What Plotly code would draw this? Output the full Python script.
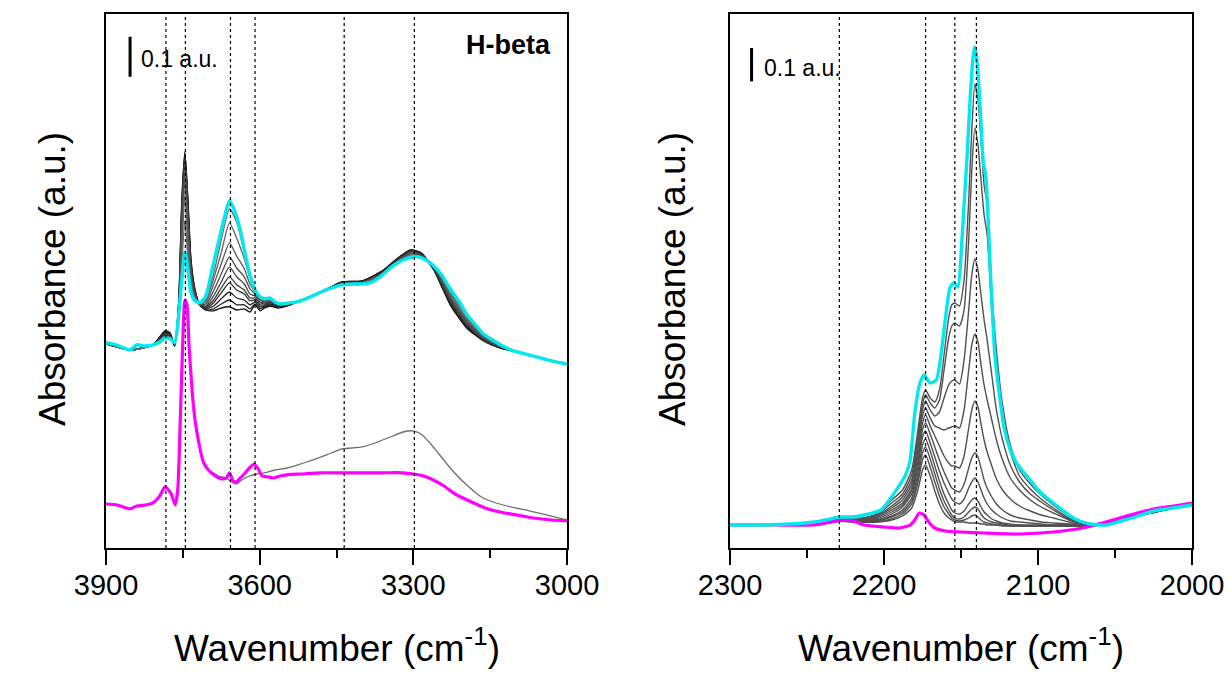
import plotly.graph_objects as go

# ---------------- LEFT PANEL (OH region) ----------------
LEFT_TICKS = [3900, 3600, 3300, 3000]
LEFT_MINOR = [3750, 3450, 3150]
LEFT_MARKS = [3783, 3745, 3657, 3609, 3435, 3298]

LC_WN = [3900, 3880, 3853, 3840, 3825, 3808, 3795, 3785, 3775, 3766, 3760, 3752, 3746, 3740, 3735, 3728, 3717, 3705, 3693, 3684,
         3670, 3659, 3648, 3638, 3628, 3619, 3609, 3599, 3590, 3580, 3570, 3560, 3540, 3520, 3500, 3480, 3460, 3440, 3420, 3400,
         3380, 3360, 3340, 3320, 3300, 3290, 3275, 3260, 3245, 3228, 3210, 3196, 3180, 3163, 3145, 3130, 3110, 3090, 3060, 3030, 3000]
LC_A = [.513, .508, .495, .508, .505, .508, .515, .525, .523, .513, .558, .670, .740, .695, .645, .620, .613, .630, .695, .745,
        .820, .868, .840, .795, .733, .683, .645, .628, .623, .625, .615, .610, .613, .618, .628, .640, .650, .658, .660, .660,
        .665, .683, .705, .720, .728, .728, .720, .705, .683, .648, .615, .585, .560, .535, .520, .508, .495, .488, .478, .468, .460]

LM_WN = [3900, 3880, 3860, 3853, 3840, 3820, 3808, 3795, 3785, 3778, 3772, 3765, 3760, 3755, 3750, 3746, 3742, 3738, 3732, 3726,
         3718, 3710, 3700, 3690, 3675, 3665, 3659, 3652, 3646, 3638, 3630, 3620, 3611, 3603, 3595, 3585, 3573, 3560, 3547, 3520,
         3480, 3440, 3400, 3360, 3320, 3300, 3280, 3261, 3240, 3222, 3200, 3183, 3160, 3131, 3100, 3066, 3030, 3000]
LM_A = [.110, .108, .100, .098, .105, .108, .113, .130, .153, .145, .133, .108, .145, .320, .520, .620, .608, .508, .395, .318,
        .258, .215, .195, .183, .173, .175, .188, .168, .165, .175, .185, .200, .210, .198, .180, .178, .175, .180, .183, .185,
        .188, .188, .188, .188, .188, .185, .180, .170, .155, .138, .123, .113, .100, .090, .083, .075, .070, .068]

LG_WN = [3700, 3680, 3665, 3655, 3645, 3635, 3620, 3605, 3590, 3570, 3547, 3525, 3508, 3490, 3469, 3450, 3439, 3420, 3400, 3380,
         3360, 3340, 3320, 3302, 3285, 3268, 3250, 3228, 3210, 3196, 3170, 3144, 3110, 3074, 3040, 3000]
LG_A = [.195, .180, .175, .165, .160, .170, .180, .185, .188, .195, .200, .208, .215, .223, .233, .243, .248, .250, .253, .260,
        .270, .280, .290, .293, .285, .263, .235, .200, .175, .158, .130, .115, .103, .093, .083, .070]

# grey family (increasing CO dose), shared wavenumber grid
LS_WN = [3900, 3853, 3808, 3785, 3775, 3766, 3758, 3752, 3746, 3740, 3734, 3726, 3717, 3705, 3690, 3675, 3659, 3645, 3630, 3619,
         3609, 3599, 3590, 3580, 3565, 3540, 3500, 3460, 3440, 3400, 3360, 3330, 3305, 3285, 3260, 3228, 3196, 3163, 3131, 3090, 3045, 3000]
LS1 = [.510, .495, .508, .543, .538, .505, .620, .870, .990, .870, .720, .645, .608, .595, .593, .600, .603, .595, .598, .590,
       .608, .593, .600, .605, .600, .608, .630, .653, .665, .668, .693, .725, .745, .738, .695, .608, .550, .518, .500, .488, .473, .460]
LS2 = [.513, .495, .508, .540, .535, .505, .615, .860, .988, .863, .715, .643, .608, .595, .598, .610, .620, .608, .608, .598,
       .610, .598, .603, .608, .603, .608, .630, .653, .665, .668, .693, .725, .745, .738, .695, .610, .553, .518, .500, .488, .473, .460]
LS3 = [.513, .495, .508, .538, .533, .505, .610, .850, .983, .855, .710, .640, .608, .598, .605, .623, .640, .625, .620, .608,
       .615, .603, .605, .610, .605, .610, .630, .653, .663, .665, .690, .723, .743, .735, .698, .613, .555, .520, .500, .488, .473, .460]
LS4 = [.513, .495, .508, .535, .530, .508, .605, .840, .978, .845, .705, .638, .608, .600, .613, .638, .663, .645, .635, .618,
       .620, .608, .608, .613, .608, .610, .628, .653, .663, .665, .690, .723, .743, .735, .698, .618, .558, .520, .503, .488, .473, .460]
LS5 = [.513, .495, .508, .533, .530, .508, .600, .830, .970, .835, .700, .635, .608, .603, .620, .650, .678, .658, .645, .625,
       .625, .613, .610, .615, .608, .610, .628, .653, .663, .665, .688, .720, .740, .733, .700, .620, .563, .523, .503, .488, .473, .460]
LS6 = [.513, .495, .508, .530, .528, .508, .595, .815, .960, .820, .693, .633, .610, .605, .630, .665, .703, .678, .660, .635,
       .630, .615, .613, .615, .610, .613, .628, .650, .660, .663, .688, .720, .740, .733, .700, .625, .565, .525, .503, .488, .473, .460]
LS7 = [.513, .495, .508, .528, .528, .510, .590, .795, .945, .800, .685, .630, .610, .610, .643, .685, .728, .700, .678, .648,
       .635, .620, .615, .618, .610, .613, .628, .650, .660, .663, .685, .718, .738, .730, .703, .628, .568, .525, .505, .488, .473, .460]
LS8 = [.513, .495, .508, .528, .525, .510, .585, .770, .920, .778, .675, .628, .610, .615, .658, .710, .763, .730, .698, .660,
       .640, .623, .618, .620, .613, .613, .628, .650, .660, .663, .685, .718, .735, .730, .703, .633, .570, .528, .505, .488, .473, .460]
LS9 = [.513, .495, .508, .525, .525, .510, .580, .740, .883, .750, .665, .625, .613, .620, .673, .738, .813, .775, .723, .675,
       .645, .625, .620, .620, .613, .613, .628, .650, .658, .660, .683, .715, .733, .728, .705, .638, .575, .530, .505, .488, .473, .460]
LS10 = [.513, .495, .508, .525, .523, .513, .570, .710, .820, .720, .653, .623, .613, .625, .685, .770, .848, .815, .740, .685,
        .648, .628, .623, .623, .613, .613, .628, .650, .658, .660, .683, .713, .730, .725, .705, .643, .580, .533, .508, .488, .473, .460]
LEFT_SERIES = [LS1, LS2, LS3, LS4, LS5, LS6, LS7, LS8, LS9, LS10]
LEFT_GREYS = ["#111111", "#1c1c1c", "#262626", "#303030", "#3a3a3a", "#444444", "#4e4e4e", "#585858", "#626262", "#6a6a6a"]

# ---------------- RIGHT PANEL (CO region) ----------------
RIGHT_TICKS = [2300, 2200, 2100, 2000]
RIGHT_MINOR = [2250, 2150, 2050]
RIGHT_MARKS = [2229, 2173, 2154, 2140]

RC_WN = [2300, 2280, 2260, 2245, 2235, 2229, 2220, 2210, 2202, 2192, 2186, 2183, 2180, 2177, 2174, 2170, 2166, 2163, 2160, 2157,
         2154.5, 2152, 2149.5, 2148, 2146, 2144, 2142, 2141, 2139.5, 2137.5, 2135.5, 2134, 2132.5, 2131, 2129.5, 2128, 2125, 2122, 2118, 2114,
         2110, 2105, 2100, 2095, 2090, 2085, 2079, 2073, 2066, 2056, 2046, 2035, 2025, 2012, 2000]
RC_A = [.069, .069, .072, .078, .087, .093, .093, .102, .114, .174, .219, .264, .405, .489, .519, .495, .504, .579, .693, .783,
        .795, .783, .915, 1.029, 1.179, 1.353, 1.479, 1.503, 1.458, 1.314, 1.155, 1.119, .999, .834, .699, .579, .459, .360, .294, .255,
        .231, .204, .174, .153, .135, .117, .096, .081, .072, .069, .081, .096, .111, .120, .129]

RM_WN = [2300, 2270, 2246, 2238, 2231, 2224, 2218, 2213, 2200, 2190, 2183, 2180, 2177, 2174, 2171, 2167, 2160, 2150, 2135, 2112,
         2090, 2068, 2047, 2025, 2012, 2000]
RM_A = [.069, .069, .069, .075, .081, .084, .078, .069, .063, .060, .069, .084, .105, .099, .078, .060, .051, .048, .045, .042,
        .048, .063, .090, .117, .126, .135]

RS_WN = [2300, 2260, 2240, 2229, 2218, 2205, 2195, 2188, 2182, 2178, 2175, 2173, 2170, 2167, 2164, 2161, 2158, 2156, 2154, 2151,
         2148, 2145, 2143, 2141, 2139, 2137, 2135, 2133, 2130, 2127, 2123, 2118, 2112, 2105, 2098, 2090, 2080, 2070, 2060, 2050,
         2040, 2030, 2015, 2000]
RS1 = [.069, .069, .072, .081, .078, .078, .084, .096, .120, .174, .234, .249, .216, .171, .132, .105, .090, .084, .078, .078,
       .078, .075, .075, .075, .075, .072, .072, .069, .069, .069, .066, .066, .066, .066, .066, .066, .066, .066, .069, .081,
       .093, .102, .117, .129]
RS2 = [.069, .069, .072, .081, .078, .078, .087, .102, .132, .195, .264, .279, .243, .198, .156, .123, .102, .090, .084, .081,
       .084, .090, .096, .099, .093, .084, .078, .075, .072, .069, .069, .066, .066, .066, .066, .066, .066, .066, .069, .081,
       .093, .102, .117, .129]
RS3 = [.069, .069, .072, .081, .078, .081, .093, .108, .141, .210, .285, .303, .267, .222, .177, .141, .114, .099, .090, .087,
       .093, .108, .117, .123, .117, .102, .090, .084, .078, .075, .072, .069, .069, .066, .066, .066, .066, .066, .069, .081,
       .093, .102, .117, .129]
RS4 = [.069, .069, .072, .081, .078, .081, .096, .114, .150, .225, .309, .327, .291, .246, .201, .162, .132, .114, .105, .102,
       .111, .132, .144, .150, .141, .123, .108, .099, .087, .081, .075, .072, .069, .069, .069, .069, .069, .069, .069, .081,
       .093, .102, .117, .129]
RS5 = [.069, .069, .072, .081, .081, .084, .102, .123, .162, .243, .333, .351, .315, .273, .231, .195, .165, .147, .138, .132,
       .147, .180, .198, .210, .198, .174, .150, .132, .114, .102, .090, .081, .078, .075, .072, .069, .069, .069, .069, .081,
       .093, .102, .117, .129]
RS6 = [.069, .069, .072, .081, .081, .087, .108, .129, .171, .258, .354, .375, .342, .303, .264, .228, .198, .180, .174, .168,
       .192, .240, .270, .285, .273, .240, .204, .180, .153, .132, .114, .099, .090, .084, .078, .075, .072, .069, .069, .081,
       .093, .102, .117, .129]
RS7 = [.069, .069, .072, .084, .081, .090, .114, .135, .180, .276, .375, .399, .366, .336, .306, .276, .255, .246, .246, .240,
       .276, .360, .414, .441, .423, .372, .324, .288, .246, .207, .174, .147, .126, .111, .099, .090, .078, .069, .069, .081,
       .093, .102, .117, .129]
RS8 = [.069, .069, .072, .084, .084, .093, .120, .144, .192, .294, .396, .420, .390, .366, .360, .354, .360, .363, .366, .360,
       .414, .534, .609, .642, .618, .549, .489, .444, .384, .324, .264, .210, .174, .144, .123, .105, .084, .072, .069, .081,
       .093, .102, .117, .129]
RS9 = [.069, .069, .072, .087, .084, .096, .126, .153, .204, .315, .414, .441, .414, .396, .408, .450, .489, .501, .504, .492,
       .564, .714, .819, .867, .834, .759, .684, .624, .519, .414, .324, .249, .198, .162, .138, .114, .087, .075, .069, .081,
       .093, .102, .117, .129]
RS10 = [.069, .069, .072, .087, .087, .099, .135, .162, .219, .333, .432, .459, .435, .420, .444, .534, .630, .666, .675, .666,
        .714, .924, 1.134, 1.260, 1.209, 1.104, .999, .939, .714, .549, .399, .288, .216, .177, .147, .120, .090, .075, .069, .081,
        .093, .102, .117, .129]
RS11 = [.069, .069, .072, .090, .087, .102, .144, .174, .234, .354, .450, .474, .450, .438, .474, .579, .690, .729, .735, .726,
        .804, 1.044, 1.254, 1.392, 1.344, 1.224, 1.089, 1.029, .774, .594, .429, .309, .234, .192, .159, .129, .096, .078, .069, .081,
        .093, .102, .117, .129]
RIGHT_SERIES = [RS1, RS2, RS3, RS4, RS5, RS6, RS7, RS8, RS9, RS10, RS11]

for s in LEFT_SERIES:
    assert len(s) == len(LS_WN)
for s in RIGHT_SERIES:
    assert len(s) == len(RS_WN)
assert len(LC_WN) == len(LC_A) and len(LM_WN) == len(LM_A) and len(LG_WN) == len(LG_A)
assert len(RC_WN) == len(RC_A) and len(RM_WN) == len(RM_A)

CYAN = "#00E8F0"
MAGENTA = "#FF00FF"
FONT = "Liberation Sans, Arial, sans-serif"
W, H = 1229, 695

fig = go.Figure()


def add(x, y, color, width, xa, ya):
    fig.add_trace(go.Scatter(x=x, y=y, mode="lines", xaxis=xa, yaxis=ya, showlegend=False, hoverinfo="skip",
                             cliponaxis=True,
                             line=dict(color=color, width=width, shape="spline", smoothing=0.6)))


for s, c in zip(LEFT_SERIES, LEFT_GREYS):
    add(LS_WN, s, c, 1.3, "x", "y")
add(LG_WN, LG_A, "#6e6e6e", 1.3, "x", "y")
add(LM_WN, LM_A, MAGENTA, 3.2, "x", "y")
add(LC_WN, LC_A, CYAN, 3.4, "x", "y")

for s in RIGHT_SERIES:
    add(RS_WN, s, "#505050", 1.4, "x2", "y2")
add(RM_WN, RM_A, MAGENTA, 3.2, "x2", "y2")
add(RC_WN, RC_A, CYAN, 3.4, "x2", "y2")

ytop = 1 - 14 / H
ybot = 1 - 548 / H


def xax(dom, rng, ticks, minor):
    return dict(domain=dom, range=rng, showline=True, linewidth=2, linecolor="black", mirror=True,
                ticks="outside", ticklen=15, tickwidth=2, tickcolor="black",
                tickmode="array", tickvals=ticks, ticktext=[str(t) for t in ticks],
                tickfont=dict(family=FONT, size=29, color="black"), automargin=False,
                ticklabelstandoff=-5,
                minor=dict(ticks="outside", ticklen=8, tickwidth=2, tickcolor="black", tickmode="array", tickvals=minor),
                showgrid=False, zeroline=False, fixedrange=True)


def yax(rng, anchor):
    return dict(domain=[ybot, ytop], range=rng, anchor=anchor, showline=True, linewidth=2, linecolor="black",
                mirror=True, ticks="", showticklabels=False, showgrid=False, zeroline=False, automargin=False)


shapes = []
for wn in LEFT_MARKS:
    shapes.append(dict(type="line", xref="x", yref="y domain", x0=wn, x1=wn, y0=0, y1=1,
                       line=dict(color="black", width=1.2, dash="dot"), layer="above"))
for wn in RIGHT_MARKS:
    shapes.append(dict(type="line", xref="x2", yref="y2 domain", x0=wn, x1=wn, y0=0, y1=1,
                       line=dict(color="black", width=1.2, dash="dot"), layer="above"))
# 0.1 a.u. scale bars
shapes.append(dict(type="line", xref="x", yref="y", x0=3853, x1=3853, y0=1.178, y1=1.278,
                   line=dict(color="black", width=3)))
shapes.append(dict(type="line", xref="x2", yref="y2", x0=2286, x1=2286, y0=1.400, y1=1.500,
                   line=dict(color="black", width=3)))

annotations = [
    dict(text="0.1 a.u.", x=3836, y=1.223, xref="x", yref="y", xanchor="left", yanchor="middle",
         showarrow=False, font=dict(family=FONT, size=23, color="black")),
    dict(text="0.1 a.u.", x=2279, y=1.441, xref="x2", yref="y2", xanchor="left", yanchor="middle",
         showarrow=False, font=dict(family=FONT, size=23, color="black")),
    dict(text="<b>H-beta</b>", x=3028, y=1.258, xref="x", yref="y", xanchor="right", yanchor="middle",
         showarrow=False, font=dict(family=FONT, size=27, color="black")),
    dict(text="Wavenumber (cm<sup>-1</sup>)", x=336.5 / W, y=1 - 645 / H, xref="paper", yref="paper",
         xanchor="center", yanchor="middle", showarrow=False, font=dict(family=FONT, size=37, color="black")),
    dict(text="Wavenumber (cm<sup>-1</sup>)", x=961 / W, y=1 - 645 / H, xref="paper", yref="paper",
         xanchor="center", yanchor="middle", showarrow=False, font=dict(family=FONT, size=37, color="black")),
    dict(text="Absorbance (a.u.)", x=52 / W, y=1 - 279 / H, xref="paper", yref="paper", textangle=-90,
         xanchor="center", yanchor="middle", showarrow=False, font=dict(family=FONT, size=37, color="black")),
    dict(text="Absorbance (a.u.)", x=672 / W, y=1 - 279 / H, xref="paper", yref="paper", textangle=-90,
         xanchor="center", yanchor="middle", showarrow=False, font=dict(family=FONT, size=37, color="black")),
]

fig.update_layout(
    width=W, height=H, autosize=False,
    margin=dict(l=0, r=0, t=0, b=0, autoexpand=False),
    paper_bgcolor="white", plot_bgcolor="white",
    xaxis=dict(xax([106 / W, 567 / W], [3900, 3000], LEFT_TICKS, LEFT_MINOR), anchor="y"),
    yaxis=yax([0, 1.335], "x"),
    xaxis2=dict(xax([730 / W, 1192 / W], [2300, 2000], RIGHT_TICKS, RIGHT_MINOR), anchor="y2"),
    yaxis2=yax([0, 1.602], "x2"),
    shapes=shapes, annotations=annotations,
)

fig.write_html("out.html")
